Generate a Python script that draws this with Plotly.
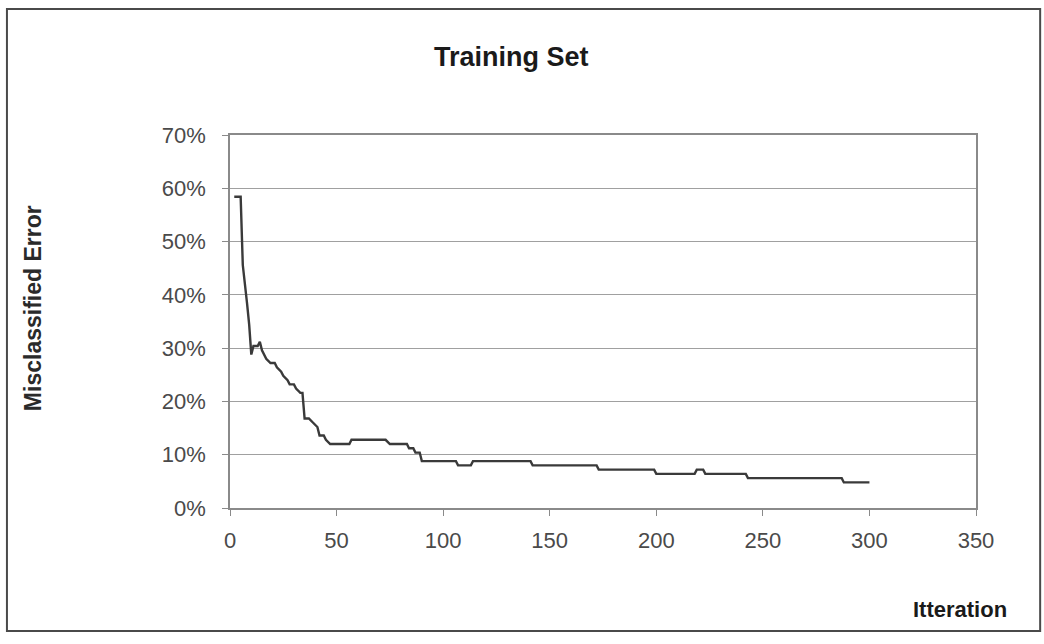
import plotly.graph_objects as go

# Misclassification error on the training set, recorded at each change point
iterations = [2, 5, 6, 7, 8, 9, 10, 11, 13, 14, 15, 17, 19, 21, 22, 24, 25, 27, 28,
              30, 31, 33, 34, 35, 37, 39, 41, 42, 44, 45, 47, 56, 57, 73, 75, 83,
              84, 86, 87, 89, 90, 106, 107, 113, 114, 141, 142, 172, 173, 199,
              200, 218, 219, 222, 223, 242, 243, 287, 288, 300]
error = [0.584, 0.584, 0.456, 0.424, 0.384, 0.344, 0.288, 0.304, 0.304, 0.312,
         0.296, 0.280, 0.272, 0.272, 0.264, 0.256, 0.248, 0.240, 0.232, 0.232,
         0.224, 0.216, 0.216, 0.168, 0.168, 0.160, 0.152, 0.136, 0.136, 0.128,
         0.120, 0.120, 0.128, 0.128, 0.120, 0.120, 0.112, 0.112, 0.104, 0.104,
         0.088, 0.088, 0.080, 0.080, 0.088, 0.088, 0.080, 0.080, 0.072, 0.072,
         0.064, 0.064, 0.072, 0.072, 0.064, 0.064, 0.056, 0.056, 0.048, 0.048]

x_ticks = [0, 50, 100, 150, 200, 250, 300, 350]
y_ticks = [0, 0.1, 0.2, 0.3, 0.4, 0.5, 0.6, 0.7]

FONT = "Liberation Sans, Arial, sans-serif"

fig = go.Figure()
fig.add_trace(go.Scatter(
    x=iterations, y=error, mode="lines",
    line=dict(color="#3a3a3a", width=2.4),
    showlegend=False, hoverinfo="x+y",
))

fig.update_layout(
    width=1044, height=644,
    margin=dict(l=230, r=68, t=135, b=136),
    paper_bgcolor="white", plot_bgcolor="white",
    font=dict(family=FONT, color="#4a4a4a"),
    annotations=[
        dict(text="<b>Training Set</b>", x=0.378, y=1.209, xref="paper", yref="paper",
             xanchor="center", yanchor="middle", showarrow=False,
             font=dict(size=27, color="#1a1a1a")),
        dict(text="<b>Misclassified Error</b>", x=-0.264, y=0.536, xref="paper",
             yref="paper", xanchor="center", yanchor="middle", showarrow=False,
             textangle=-90, font=dict(size=23, color="#2a2a2a")),
        dict(text="<b>Itteration</b>", x=0.979, y=-0.271, xref="paper", yref="paper",
             xanchor="center", yanchor="middle", showarrow=False,
             font=dict(size=22, color="#1a1a1a")),
    ],
    shapes=[
        dict(type="rect", xref="paper", yref="paper",
             x0=-0.299, x1=1.086, y0=-0.33, y1=1.338,
             line=dict(color="#4a4a4a", width=2), fillcolor="rgba(0,0,0,0)"),
    ],
)

fig.update_xaxes(
    range=[0, 350], tickvals=x_ticks, ticktext=[str(v) for v in x_ticks],
    showgrid=False, zeroline=False,
    showline=True, mirror=True, linecolor="#8a8a8a", linewidth=1.5,
    ticks="outside", ticklen=6, tickcolor="#8a8a8a",
    tickfont=dict(size=22, color="#4a4a4a", family=FONT),
    ticklabelstandoff=6,
)
fig.update_yaxes(
    range=[0, 0.7], tickvals=y_ticks, tickformat=".0%",
    showgrid=True, gridcolor="#a0a0a0", gridwidth=1, zeroline=False,
    showline=True, mirror=True, linecolor="#8a8a8a", linewidth=1.5,
    ticks="outside", ticklen=6, tickcolor="#8a8a8a",
    tickfont=dict(size=22, color="#4a4a4a", family=FONT),
    ticklabelstandoff=12,
)

fig.write_html("out.html")
